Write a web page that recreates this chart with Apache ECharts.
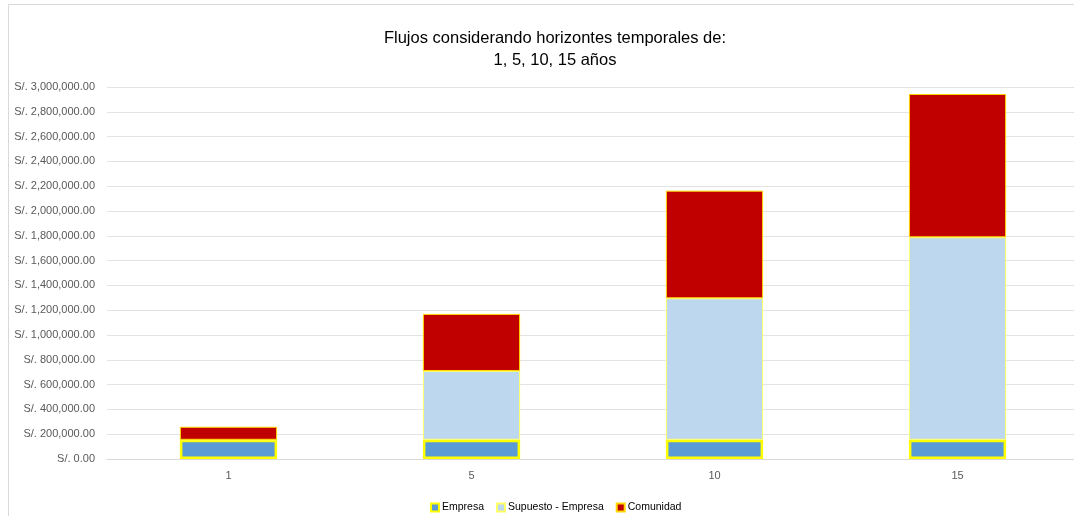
<!DOCTYPE html>
<html><head><meta charset="utf-8">
<script src="https://cdn.jsdelivr.net/npm/echarts@6/dist/echarts.min.js"></script>
<style>html,body{margin:0;padding:0;background:#fff;overflow:hidden}#c{width:1086px;height:516px}</style>
</head><body><div id="c"></div>
<script>
const categories = ['1', '5', '10', '15'];
const empresa = [155000, 155000, 155000, 155000];
const supuestoEmpresa = [0, 555000, 1141000, 1633000];
const comunidad = [105000, 460000, 868000, 1156000];
const titleLines = ['Flujos considerando horizontes temporales de:', '1, 5, 10, 15 años'];

const FONT = '"Liberation Sans", Arial, sans-serif';
function fmt(v){
  return 'S/. ' + Number(v).toLocaleString('en-US', {minimumFractionDigits: 2, maximumFractionDigits: 2});
}
const chart = echarts.init(document.getElementById('c'));
chart.setOption({
  animation: false,
  backgroundColor: '#fff',
  graphic: [{type: 'rect', shape: {x: 8.5, y: 4.5, width: 1100, height: 600}, style: {fill: 'none', stroke: '#d9d9d9', lineWidth: 1}, silent: true}],
  title: {
    text: titleLines.join('\n'),
    left: 550, textAlign: 'center', top: 22,
    textStyle: {fontFamily: FONT, fontSize: 16.5, fontWeight: 'normal', color: '#000', lineHeight: 22}
  },
  legend: {
    data: ['Empresa', 'Supuesto - Empresa', 'Comunidad'],
    left: 425, top: 497, itemWidth: 8, itemHeight: 8, itemGap: 12,
    icon: 'rect',
    textStyle: {fontFamily: FONT, fontSize: 10.5, color: '#000', padding: [0,0,0,-2]}
  },
  grid: {left: 107, top: 87, right: 7, height: 372, containLabel: false},
  xAxis: {
    type: 'category', data: categories,
    axisLine: {lineStyle: {color: '#d9d9d9'}}, axisTick: {show: false},
    axisLabel: {fontFamily: FONT, fontSize: 11, color: '#595959', margin: 11}
  },
  yAxis: {
    type: 'value', min: 0, max: 3000000, interval: 200000,
    axisLine: {show: false}, axisTick: {show: false},
    splitLine: {lineStyle: {color: '#e3e3e3', width: 1}},
    axisLabel: {formatter: fmt, fontFamily: FONT, fontSize: 11, color: '#595959', margin: 12}
  },
  series: [
    {name: 'Empresa', type: 'bar', stack: 's', data: empresa, barWidth: '40%',
     itemStyle: {color: '#5b9bd5', borderColor: '#ffff00', borderWidth: 2.5}},
    {name: 'Supuesto - Empresa', type: 'bar', stack: 's', data: supuestoEmpresa,
     itemStyle: {color: '#bdd7ee', borderColor: '#ffff66', borderWidth: 1}},
    {name: 'Comunidad', type: 'bar', stack: 's', data: comunidad,
     itemStyle: {color: '#c00000', borderColor: '#ffd700', borderWidth: 1}}
  ]
});
</script></body></html>
